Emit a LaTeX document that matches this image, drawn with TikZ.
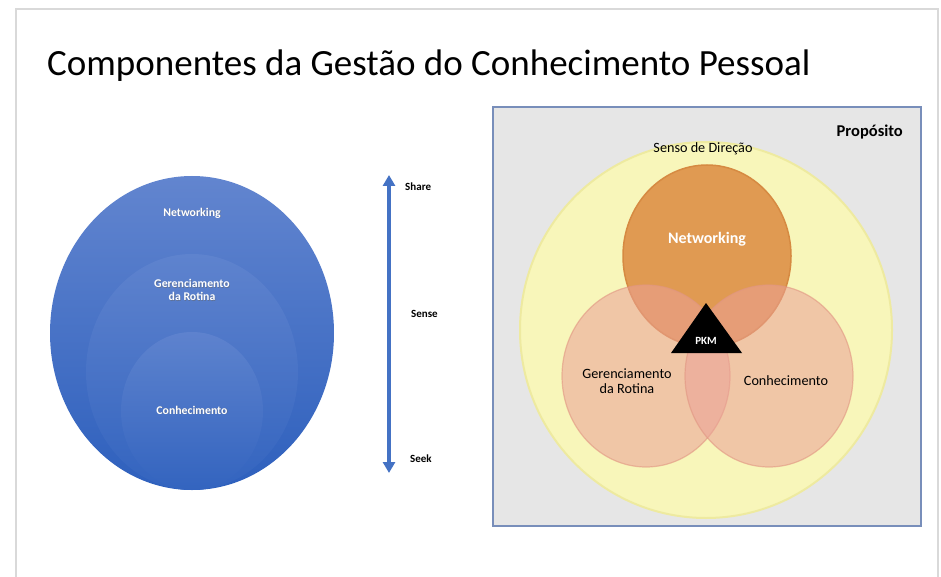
\documentclass[tikz,border=0pt]{standalone}
\usepackage{fontspec}
\setmainfont{Carlito}
\usetikzlibrary{arrows.meta,shapes.geometric}
\definecolor{slideedge}{RGB}{217,217,217}
\definecolor{bluetop}{RGB}{98,133,207}
\definecolor{bluebot}{RGB}{46,96,189}
\definecolor{bluemidtop}{RGB}{96,132,207}
\definecolor{bluemidbot}{RGB}{52,101,192}
\definecolor{arrowblue}{RGB}{68,114,196}
\definecolor{boxgray}{RGB}{230,230,230}
\definecolor{boxedge}{RGB}{120,142,186}
\definecolor{yel}{RGB}{248,246,186}
\definecolor{yeledge}{RGB}{238,234,160}
\definecolor{orng}{RGB}{224,154,82}
\definecolor{orngedge}{RGB}{214,138,66}
\definecolor{peach}{RGB}{235,160,150}
\definecolor{peachedge}{RGB}{225,150,130}
\tikzset{
  whitelbl/.style={text=white,font=\bfseries\fontsize{11.8}{13}\selectfont,align=center,inner sep=0pt},
  shadowlbl/.style={text=black!60,opacity=0.5,font=\bfseries\fontsize{11.8}{13}\selectfont,align=center,inner sep=0pt},
  sidelbl/.style={font=\bfseries\fontsize{11}{12}\selectfont,anchor=west,inner sep=0pt},
  darklbl/.style={font=\fontsize{14.2}{15.5}\selectfont,align=center,inner sep=0pt},
  venn/.style={fill=peach,fill opacity=0.55,draw=peachedge,draw opacity=0.6,line width=1.2pt},
}
\begin{document}
\begin{tikzpicture}[x=1pt,y=-1pt]
\useasboundingbox (0,0) rectangle (941,577);
\fill[white] (0,0) rectangle (941,577);
% slide frame
\draw[slideedge,line width=1.2pt] (16,580) -- (16,9) -- (938,9) -- (938,580);
% title
\node[anchor=base west,inner sep=0pt,font=\fontsize{37}{40}\selectfont] (title) at (47,76) {Componentes da Gestão do Conhecimento Pessoal};
% left nested ellipses
\shade[top color=bluetop,bottom color=bluebot] (192,333) ellipse [x radius=142pt,y radius=157pt];
\shade[top color=bluemidtop,bottom color=bluemidbot,opacity=0.9] (192,372) ellipse [x radius=106pt,y radius=118pt];
\shade[top color=bluemidtop,bottom color=bluemidbot,opacity=0.9] (192,411) ellipse [x radius=71pt,y radius=79pt];
\node[shadowlbl] at (192.7,213.7) {Networking};
\node[whitelbl] (lnet) at (192,213) {Networking};
\node[shadowlbl] at (192.7,290.7) {Gerenciamento\\da Rotina};
\node[whitelbl] (lger) at (192,290) {Gerenciamento\\da Rotina};
\node[shadowlbl] at (192.7,410.7) {Conhecimento};
\node[whitelbl] (lcon) at (192,410) {Conhecimento};
% arrow
\coordinate (atop) at (389,175);
\coordinate (abot) at (389,473);
\draw[arrowblue,line width=3.2pt,{Triangle[width=12pt,length=11pt]}-{Triangle[width=12pt,length=11pt]}] (atop) -- (abot);
\node[sidelbl] (share) at (405,187) {Share};
\node[sidelbl] (sense) at (411,314) {Sense};
\node[sidelbl] (seek) at (410,459) {Seek};
% right box
\draw[fill=boxgray,draw=boxedge,line width=1.3pt] (493,107) rectangle (921,526);
\node[anchor=base east,inner sep=0pt,font=\bfseries\fontsize{16.5}{18}\selectfont] (prop) at (903,137) {Propósito};
% yellow circle
\draw[fill=yel,draw=yeledge,line width=2pt] (706,330) ellipse [x radius=186pt,y radius=188pt];
\node[darklbl] (senso) at (703,149) {Senso de Direção};
% networking circle
\draw[fill=orng,draw=orngedge,line width=1.5pt] (707,256) ellipse [x radius=84pt,y radius=91pt];
% bottom circles
\draw[venn] (646,376) ellipse [x radius=84pt,y radius=91pt];
\draw[venn] (769,376) ellipse [x radius=84pt,y radius=91pt];
\node[text=white,font=\bfseries\fontsize{16}{18}\selectfont,inner sep=0pt] (rnet) at (707,239) {Networking};
\node[darklbl] (rger) at (627,381) {Gerenciamento\\da Rotina};
\node[darklbl] (rcon) at (786,381) {Conhecimento};
% PKM triangle
\fill[black] (706,303) -- (742,353) -- (671,353) -- cycle;
\node[text=white,font=\bfseries\fontsize{11}{12}\selectfont,inner sep=0pt] (pkm) at (706,341) {PKM};
\end{tikzpicture}
\end{document}
